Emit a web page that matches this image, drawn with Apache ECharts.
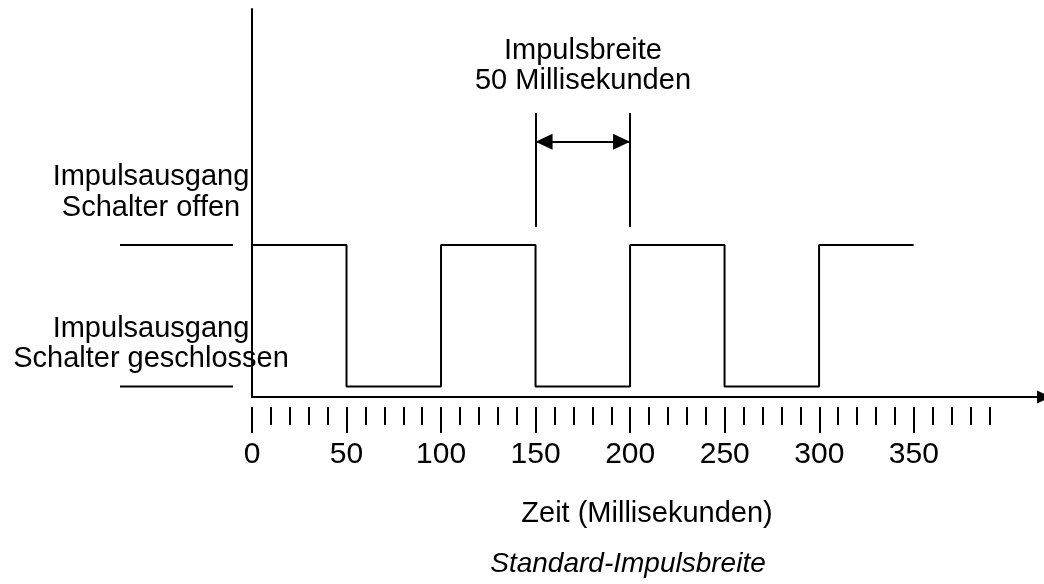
<!DOCTYPE html>
<html>
<head>
<meta charset="utf-8">
<script src="https://cdn.jsdelivr.net/npm/echarts@6/dist/echarts.min.js"></script>
<style>html,body{margin:0;padding:0;background:#fff;}#c{width:1044px;height:584px;}</style>
</head>
<body>
<div id="c"></div>
<script>
// ---- data ----
const edgeTimes = [0, 50, 100, 150, 200, 250, 300, 350];
const levels = [39.2, 2.7, 39.2, 2.7, 39.2, 2.7, 39.2, 39.2];
const levelHigh = 39.2;
const levelLow = 2.7;
const pulseStart = 150;
const pulseEnd = 200;
const markerBottom = 43.8;
const markerTop = 73.2;
const arrowLevel = 65.8;
const axisMax = 419;
const majorMax = 350;
const majorStep = 50;
const minorMax = 390;
const minorStep = 10;
const yMax = 100;
const texts = {
  pulseTitle: 'Impulsbreite',
  pulseSub: '50 Millisekunden',
  openA: 'Impulsausgang',
  openB: 'Schalter offen',
  closedA: 'Impulsausgang',
  closedB: 'Schalter geschlossen',
  xName: 'Zeit (Millisekunden)',
  caption: 'Standard-Impulsbreite'
};

// ---- layout ----
const PX = 1.891;
const X0 = 252;
const FONT = 'Liberation Sans, Arial, sans-serif';
const chart = echarts.init(document.getElementById('c'), null, {renderer: 'canvas'});

function txt(t, x, y, font) {
  return {
    type: 'text', x: x, y: y,
    style: {text: t, fill: '#000', font: font || ('29px ' + FONT), textAlign: 'center', textVerticalAlign: 'middle'}
  };
}

const option = {
  backgroundColor: '#fff',
  animation: false,
  grid: [
    {left: X0, top: 9, width: axisMax * PX, height: 388},
    {left: X0, top: 300, width: minorMax * PX, bottom: 177},
    {left: X0, top: 300, width: majorMax * PX, bottom: 177},
    {left: 120, top: 9, width: 113, height: 388}
  ],
  xAxis: [
    {gridIndex: 0, type: 'value', min: 0, max: axisMax,
     axisLine: {show: true, lineStyle: {color: '#000', width: 2}, symbol: ['none', 'triangle'], symbolSize: [13, 14]},
     axisTick: {show: false}, axisLabel: {show: false}, splitLine: {show: false}},
    {gridIndex: 1, type: 'value', min: 0, max: minorMax, interval: minorStep,
     axisLine: {show: false}, axisTick: {show: true, length: 18, lineStyle: {color: '#000', width: 2}},
     axisLabel: {show: false}, splitLine: {show: false}},
    {gridIndex: 2, type: 'value', min: 0, max: majorMax, interval: majorStep,
     axisLine: {show: false}, axisTick: {show: true, length: 26, lineStyle: {color: '#000', width: 2}},
     axisLabel: {show: true, margin: 33, fontSize: 30, fontFamily: FONT, color: '#000'},
     splitLine: {show: false}},
    {gridIndex: 3, type: 'value', min: 0, max: 1, show: false}
  ],
  yAxis: [
    {gridIndex: 0, type: 'value', min: 0, max: yMax,
     axisLine: {show: true, lineStyle: {color: '#000', width: 2}},
     axisTick: {show: false}, axisLabel: {show: false}, splitLine: {show: false}},
    {gridIndex: 1, type: 'value', show: false, min: 0, max: 1},
    {gridIndex: 2, type: 'value', show: false, min: 0, max: 1},
    {gridIndex: 3, type: 'value', show: false, min: 0, max: yMax}
  ],
  series: [
    {
      type: 'line', xAxisIndex: 0, yAxisIndex: 0, step: 'end', showSymbol: false, silent: true,
      data: edgeTimes.map((t, i) => [t, levels[i]]),
      lineStyle: {color: '#000', width: 2},
      markLine: {
        silent: true, animation: false,
        label: {show: false},
        lineStyle: {color: '#000', width: 2, type: 'solid'},
        symbol: 'none',
        data: [
          [{coord: [pulseStart, markerBottom]}, {coord: [pulseStart, markerTop]}],
          [{coord: [pulseEnd, markerBottom]}, {coord: [pulseEnd, markerTop]}],
          [{coord: [pulseStart, arrowLevel], symbol: 'triangle', symbolSize: [16, 17], symbolOffset: [0, '50%']},
           {coord: [pulseEnd, arrowLevel], symbol: 'triangle', symbolSize: [16, 17], symbolOffset: [0, '50%']}]
        ]
      }
    },
    {type: 'line', xAxisIndex: 3, yAxisIndex: 3, showSymbol: false, silent: true,
     data: [[0, levelHigh], [1, levelHigh]], lineStyle: {color: '#000', width: 2}},
    {type: 'line', xAxisIndex: 3, yAxisIndex: 3, showSymbol: false, silent: true,
     data: [[0, levelLow], [1, levelLow]], lineStyle: {color: '#000', width: 2}}
  ],
  graphic: [
    txt(texts.pulseTitle, 583, 51),
    txt(texts.pulseSub, 583, 81),
    txt(texts.openA, 151, 177),
    txt(texts.openB, 151, 208),
    txt(texts.closedA, 151, 329),
    txt(texts.closedB, 151, 359),
    txt(texts.xName, 647, 514),
    txt(texts.caption, 628, 564, 'italic 28px ' + FONT)
  ]
};
chart.setOption(option);
</script>
</body>
</html>
